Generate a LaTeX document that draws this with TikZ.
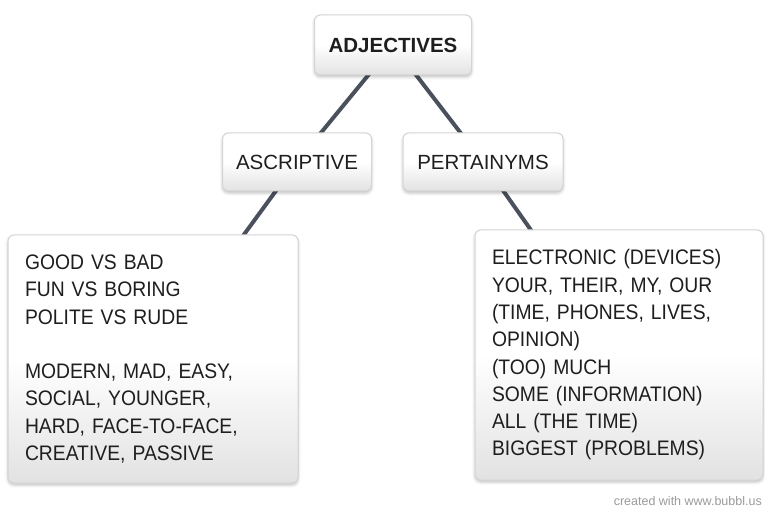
\documentclass[tikz,border=0pt]{standalone}
\usepackage{fontspec}
\setmainfont{Liberation Sans}
\newfontfamily\listfont{Liberation Sans}[FakeStretch=0.92]
\usetikzlibrary{shadows.blur,backgrounds}
\definecolor{linkgray}{HTML}{4A505C}
\definecolor{boxedge}{HTML}{D4D4D4}
\definecolor{boxbottom}{HTML}{E2E2E2}
\definecolor{inktext}{HTML}{1E1E1E}
\definecolor{creditgray}{HTML}{9A9A9A}
\tikzset{
  bubble/.style={draw=boxedge, line width=1pt, rounded corners=6pt,
    top color=white, bottom color=boxbottom, middle color=white,
    blur shadow={shadow xshift=0pt, shadow yshift=-2pt, shadow blur radius=3pt, shadow opacity=25},
    text=inktext, inner sep=0pt},
  title/.style={font=\fontsize{20.5}{24}\selectfont},
  listbox/.style={align=left, inner xsep=17pt, font=\listfont\fontsize{21}{27.3}\selectfont},
  link/.style={draw=linkgray, line width=4pt},
}
\begin{document}
\begin{tikzpicture}[x=1pt,y=-1pt]
\useasboundingbox (0,0) rectangle (765,510);
% root and second level
\node[bubble, title, font=\bfseries\fontsize{20.5}{24}\selectfont, minimum width=157pt, minimum height=60pt] (adj) at (393,45) {ADJECTIVES};
\node[bubble, title, minimum width=149pt, minimum height=58pt] (asc) at (297,162) {ASCRIPTIVE};
\node[bubble, title, minimum width=160pt, minimum height=58pt] (per) at (483,162) {PERTAINYMS};
% leaf boxes
\node[bubble, listbox, text width=256pt, minimum width=290pt, minimum height=248pt] (left) at (153,359)
  {GOOD VS BAD\\FUN VS BORING\\POLITE VS RUDE\\[27pt]MODERN, MAD, EASY,\\SOCIAL, YOUNGER,\\HARD, FACE-TO-FACE,\\CREATIVE, PASSIVE};
\node[bubble, listbox, text width=254pt, minimum width=288pt, minimum height=250pt] (right) at (619,355)
  {ELECTRONIC (DEVICES)\\YOUR, THEIR, MY, OUR\\(TIME, PHONES, LIVES,\\OPINION)\\(TOO) MUCH\\SOME (INFORMATION)\\ALL (THE TIME)\\BIGGEST (PROBLEMS)};
% connectors behind the boxes
\begin{pgfonlayer}{background}
\draw[link] (adj.center) -- (asc.center);
\draw[link] (adj.center) -- (per.center);
\draw[link] (asc.center) -- (left.center);
\draw[link] (per.center) -- (right.center);
\end{pgfonlayer}
\node[anchor=base east, text=creditgray, font=\fontsize{12.5}{14}\selectfont, inner sep=0pt] (credit) at (762,505) {created with www.bubbl.us};
\end{tikzpicture}
\end{document}
